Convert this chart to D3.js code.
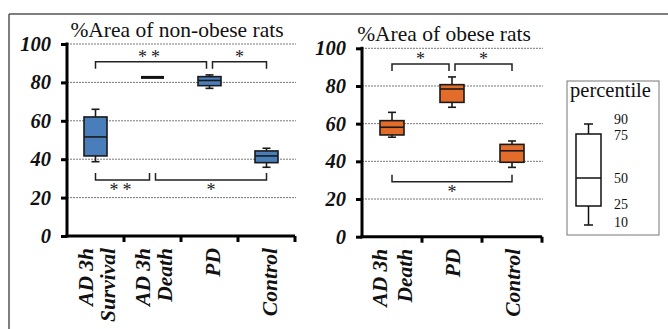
<!DOCTYPE html>
<html><head><meta charset="utf-8">
<script src="https://cdn.jsdelivr.net/npm/d3@7"></script>
<style>body{margin:0;background:#fff}svg{display:block}</style>
</head><body>
<svg id="c" width="668" height="329"></svg>
<script>
// ---------- data ----------
const yTicks = [0, 20, 40, 60, 80, 100];
const leftTitle = "%Area of non-obese rats";
const rightTitle = "%Area of obese rats";
const leftCats = ["AD 3h\nSurvival", "AD 3h\nDeath", "PD", "Control"];
const rightCats = ["AD 3h\nDeath", "PD", "Control"];
// [p10, q1, median, q3, p90]
const leftStats = [
  [38.7, 41.7, 51.6, 62.0, 66.0],
  [82.6, 82.6, 82.6, 82.6, 82.6],
  [76.9, 78.3, 81.0, 83.0, 83.9],
  [35.8, 38.2, 41.7, 44.3, 45.7]
];
const rightStats = [
  [52.8, 54.0, 58.1, 61.6, 66.0],
  [68.7, 71.3, 78.4, 80.7, 84.8],
  [36.8, 39.5, 45.6, 49.0, 50.8]
];
// significance brackets: [fromIdx, toIdx, level, label, side]
const leftSig = [[0, 2, 90.8, "**", "top"], [2, 3, 90.8, "*", "top"], [0, 1, 29.2, "**", "bottom"], [1, 3, 29.2, "*", "bottom"]];
const rightSig = [[0, 1, 91.7, "*", "top"], [1, 2, 91.7, "*", "top"], [0, 2, 29.2, "*", "bottom"]];
const legendTitle = "percentile";
const legendPercentiles = [10, 25, 50, 75, 90];

// ---------- drawing ----------
const svg = d3.select("#c");
const serif = "'Liberation Serif','Times New Roman',serif";

// outer frame (top & left)
svg.append("line").attr("x1", 9).attr("x2", 668).attr("y1", 14).attr("y2", 14).attr("stroke", "#555").attr("stroke-width", 1.5);
svg.append("line").attr("x1", 9).attr("x2", 9).attr("y1", 14).attr("y2", 329).attr("stroke", "#555").attr("stroke-width", 1.5);

function panel(o) {
  const g = svg.append("g");
  const x = d3.scaleBand().domain(o.cats).range([o.x0, o.x1]);
  const y = d3.scaleLinear().domain([0, 100]).range([o.y0, o.y100]);
  const cx = c => x(c) + x.bandwidth() / 2;

  // gridlines
  g.selectAll(".grid").data(yTicks.filter(t => t > 0)).join("line")
    .attr("x1", o.x0).attr("x2", o.gridEnd).attr("y1", d => y(d)).attr("y2", d => y(d))
    .attr("stroke", "#777").attr("stroke-width", 1).attr("stroke-dasharray", "2,1");

  // title
  g.append("text").attr("x", o.titleX).attr("y", o.titleY).attr("text-anchor", "middle")
    .attr("font-family", serif).attr("font-size", 21.5).attr("fill", "#111").text(o.title);

  // y axis
  const ya = d3.axisLeft(y).tickValues(yTicks).tickSize(6).tickPadding(10);
  const yg = g.append("g").attr("transform", `translate(${o.x0},0)`).call(ya);
  yg.select(".domain").attr("stroke", "#000").attr("stroke-width", 3).attr("d", `M0,${o.y0 + 1.5}V${o.y100 - 1.5}`);
  yg.selectAll(".tick line").attr("stroke", "#000").attr("stroke-width", 3);
  yg.selectAll(".tick text").attr("font-family", serif).attr("font-size", 20.5).attr("font-weight", "bold")
    .attr("font-style", "italic").attr("fill", "#111");

  // x axis (ticks at band boundaries)
  const xa = g.append("g");
  xa.append("line").attr("x1", o.x0 - 1.5).attr("x2", o.x1).attr("y1", o.y0).attr("y2", o.y0).attr("stroke", "#000").attr("stroke-width", 3);
  const bounds = o.cats.map(c => x(c)).concat([o.x1]).slice(1);
  xa.selectAll(".xt").data(bounds).join("line")
    .attr("x1", d => d).attr("x2", d => d).attr("y1", o.y0).attr("y2", o.y0 + 6)
    .attr("stroke", "#000").attr("stroke-width", 3);

  // x labels (rotated)
  o.cats.forEach(c => {
    const lines = c.split("\n");
    const offs = lines.length === 1 ? [o.single] : o.double;
    lines.forEach((t, i) => {
      const px = cx(c) + offs[i];
      g.append("text").attr("transform", `translate(${px},${o.y0 + 12}) rotate(-90)`)
        .attr("text-anchor", "end").attr("font-family", serif).attr("font-size", 21.5)
        .attr("font-weight", "bold").attr("font-style", "italic").attr("fill", "#111").text(t);
    });
  });

  // boxes
  const bw = o.boxW, cap = 8;
  o.stats.forEach((s, i) => {
    const c = cx(o.cats[i]);
    const [p10, q1, med, q3, p90] = s;
    const bg = g.append("g");
    if (q1 === q3) {
      bg.append("line").attr("x1", c - bw / 2).attr("x2", c + bw / 2).attr("y1", y(med)).attr("y2", y(med))
        .attr("stroke", "#111").attr("stroke-width", 3);
      return;
    }
    const st = { stroke: "#1a1a1a", w: 1.6 };
    bg.append("line").attr("x1", c).attr("x2", c).attr("y1", y(p90)).attr("y2", y(q3)).attr("stroke", st.stroke).attr("stroke-width", st.w);
    bg.append("line").attr("x1", c).attr("x2", c).attr("y1", y(q1)).attr("y2", y(p10)).attr("stroke", st.stroke).attr("stroke-width", st.w);
    bg.append("line").attr("x1", c - cap / 2).attr("x2", c + cap / 2).attr("y1", y(p90)).attr("y2", y(p90)).attr("stroke", st.stroke).attr("stroke-width", st.w);
    bg.append("line").attr("x1", c - cap / 2).attr("x2", c + cap / 2).attr("y1", y(p10)).attr("y2", y(p10)).attr("stroke", st.stroke).attr("stroke-width", st.w);
    bg.append("rect").attr("x", c - bw / 2).attr("width", bw).attr("y", y(q3)).attr("height", y(q1) - y(q3))
      .attr("fill", o.color).attr("stroke", st.stroke).attr("stroke-width", st.w);
    bg.append("line").attr("x1", c - bw / 2).attr("x2", c + bw / 2).attr("y1", y(med)).attr("y2", y(med)).attr("stroke", st.stroke).attr("stroke-width", st.w);
  });

  // significance brackets
  const counts = {};
  o.sig.forEach(([a, b, , , side]) => { [a, b].forEach(k => { const key = side + k; counts[key] = (counts[key] || 0) + 1; }); });
  o.sig.forEach(([a, b, lvl, lab, side]) => {
    let xa1 = cx(o.cats[a]), xb1 = cx(o.cats[b]);
    if (counts[side + a] > 1) xa1 += 3;
    if (counts[side + b] > 1) xb1 -= 3;
    const yy = y(lvl), leg = side === "top" ? 7 : -7;
    g.append("path").attr("d", `M${xa1},${yy + leg}V${yy}H${xb1}V${yy + leg}`)
      .attr("fill", "none").attr("stroke", "#222").attr("stroke-width", 1.5);
    g.append("text").attr("x", (xa1 + xb1) / 2).attr("y", side === "top" ? yy + 1.5 : yy + 16)
      .attr("text-anchor", "middle").attr("font-family", serif).attr("font-size", 18)
      .attr("letter-spacing", lab.length > 1 ? 4 : 0).attr("fill", "#222").text(lab);
  });
}

panel({ cats: leftCats, stats: leftStats, sig: leftSig, title: leftTitle, x0: 67, x1: 295, gridEnd: 296,
  y0: 236, y100: 44, titleX: 177, titleY: 37, color: "#4a7ebb", boxW: 23, single: 10, double: [-3, 19] });
panel({ cats: rightCats, stats: rightStats, sig: rightSig, title: rightTitle, x0: 362, x1: 542, gridEnd: 543,
  y0: 236.7, y100: 48.3, titleX: 444, titleY: 40.5, color: "#e36c2a", boxW: 24, single: 7.5, double: [-5.5, 20] });

// legend
const lg = svg.append("g");
lg.append("rect").attr("x", 567).attr("y", 81).attr("width", 92).attr("height", 154)
  .attr("fill", "#fff").attr("stroke", "#777").attr("stroke-width", 1);
lg.append("text").attr("x", 610.5).attr("y", 97).attr("text-anchor", "middle").attr("font-family", serif)
  .attr("font-size", 20.5).attr("fill", "#111").text(legendTitle);
const ly = d3.scaleLinear().domain(legendPercentiles).range([225, 206, 178, 134, 124]);
const lc = 588.5, lw = 25;
const [l10, l25, l50, l75, l90] = legendPercentiles;
lg.append("line").attr("x1", lc).attr("x2", lc).attr("y1", ly(l90)).attr("y2", ly(l75)).attr("stroke", "#111").attr("stroke-width", 1.5);
lg.append("line").attr("x1", lc).attr("x2", lc).attr("y1", ly(l25)).attr("y2", ly(l10)).attr("stroke", "#111").attr("stroke-width", 1.5);
lg.append("line").attr("x1", lc - 4.5).attr("x2", lc + 4.5).attr("y1", ly(l90)).attr("y2", ly(l90)).attr("stroke", "#111").attr("stroke-width", 1.5);
lg.append("line").attr("x1", lc - 4.5).attr("x2", lc + 4.5).attr("y1", ly(l10)).attr("y2", ly(l10)).attr("stroke", "#111").attr("stroke-width", 1.5);
lg.append("rect").attr("x", lc - lw / 2).attr("width", lw).attr("y", ly(l75)).attr("height", ly(l25) - ly(l75))
  .attr("fill", "#fff").attr("stroke", "#111").attr("stroke-width", 1.5);
lg.append("line").attr("x1", lc - lw / 2).attr("x2", lc + lw / 2).attr("y1", ly(l50)).attr("y2", ly(l50)).attr("stroke", "#111").attr("stroke-width", 1.5);
const labOff = { 90: -5, 75: 1.5, 50: 0, 25: -2, 10: -2.5 };
lg.selectAll(".pl").data(legendPercentiles).join("text")
  .attr("x", 614).attr("y", d => ly(d) + labOff[d]).attr("dy", "0.35em")
  .attr("font-family", serif).attr("font-size", 14).attr("fill", "#111").text(d => d);
</script>
</body></html>
